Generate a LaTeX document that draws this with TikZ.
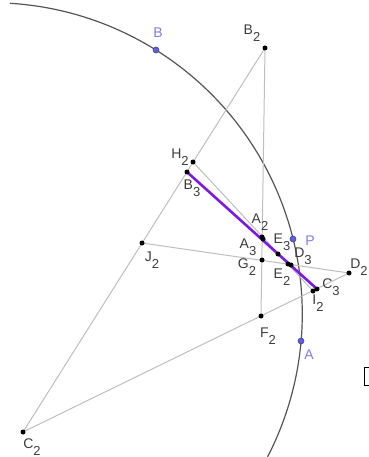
\documentclass[tikz,border=0pt]{standalone}
\usepackage{fontspec}
\setmainfont{Liberation Sans}
\usepackage{tikz}
\definecolor{geoline}{RGB}{190,190,190}
\definecolor{geoarc}{RGB}{85,85,85}
\definecolor{geoviolet}{RGB}{125,25,230}
\definecolor{geoblue}{RGB}{95,95,215}
\definecolor{geobluetext}{RGB}{125,125,225}
\definecolor{geotext}{RGB}{60,60,60}
\newcommand{\ptname}[2]{#1\raisebox{-6.5pt}{\fontsize{13}{13}\selectfont #2}}

\begin{document}
\begin{tikzpicture}[x=1pt,y=-1pt,
  seg/.style={geoline, line width=1pt},
  dot/.style={circle, fill=black, inner sep=0pt, minimum size=5pt},
  freept/.style={circle, fill=geoblue, draw=geoblue!70!black, line width=0.6pt, inner sep=0pt, minimum size=6pt},
  lbl/.style={text=geotext, font=\fontsize{14}{16}\selectfont, inner sep=0pt},
  flbl/.style={text=geobluetext, font=\fontsize{14}{16}\selectfont, inner sep=0pt}
]
  \useasboundingbox (0,0) rectangle (368,457);

  \coordinate (O) at (-9,314);
  \coordinate (B2) at (265,48);
  \coordinate (C2) at (23,432);
  \coordinate (D2) at (349,273);
  \coordinate (H2) at (193,162);
  \coordinate (J2) at (142,243);
  \coordinate (F2) at (261,316);
  \coordinate (G2) at (262,260);
  \coordinate (A2) at (262,237);
  \coordinate (A3) at (263,239);
  \coordinate (I2) at (313,291);
  \coordinate (C3) at (317,289);
  \coordinate (E3) at (278,254);
  \coordinate (E2) at (288,264);
  \coordinate (D3) at (291,265);
  \coordinate (B3) at (187,172);
  \coordinate (B) at (156,50);
  \coordinate (P) at (293,239);
  \coordinate (A) at (301,341);

  \draw[geoarc, line width=1.2pt] (O) ++(-86.5:311.3) arc[start angle=-86.5, end angle=27.3, radius=311.3];

  \draw[seg] (B2) -- (C2);
  \draw[seg] (B2) -- (F2);
  \draw[seg] (C2) -- (D2);
  \draw[seg] (J2) -- (D2);
  \draw[seg] (H2) -- (I2);
  \draw[geoviolet, line width=2.6pt] (B3) -- (C3);

  \draw[black, line width=0.8pt] (364,367) rectangle (375,385);

  \foreach \p in {B2,C2,D2,H2,J2,F2,G2,A2,A3,I2,C3,E3,E2,D3,B3}
    \node[dot] (\p dot) at (\p) {};
  \foreach \p in {B,P,A}
    \node[freept] (\p dot) at (\p) {};

  \node[flbl] (Blbl) at (158,33) {B};
  \node[lbl] (B2lbl) at (252,33) {\ptname{B}{2}};
  \node[lbl] (H2lbl) at (180,157) {\ptname{H}{2}};
  \node[lbl] (B3lbl) at (192,188) {\ptname{B}{3}};
  \node[lbl] (A2lbl) at (260,222) {\ptname{A}{2}};
  \node[lbl] (A3lbl) at (248,247) {\ptname{A}{3}};
  \node[lbl] (E3lbl) at (282,242) {\ptname{E}{3}};
  \node[flbl] (Plbl) at (310,241) {P};
  \node[lbl] (D3lbl) at (303,256) {\ptname{D}{3}};
  \node[lbl] (G2lbl) at (247,267) {\ptname{G}{2}};
  \node[lbl] (E2lbl) at (282,277) {\ptname{E}{2}};
  \node[lbl] (D2lbl) at (359,267) {\ptname{D}{2}};
  \node[lbl] (C3lbl) at (331,287) {\ptname{C}{3}};
  \node[lbl] (I2lbl) at (318,303) {\ptname{I}{2}};
  \node[lbl] (J2lbl) at (152,260) {\ptname{J}{2}};
  \node[lbl] (C2lbl) at (32,447) {\ptname{C}{2}};
  \node[lbl] (F2lbl) at (268,336) {\ptname{F}{2}};
  \node[flbl] (Albl) at (309,355) {A};
\end{tikzpicture}
\end{document}
